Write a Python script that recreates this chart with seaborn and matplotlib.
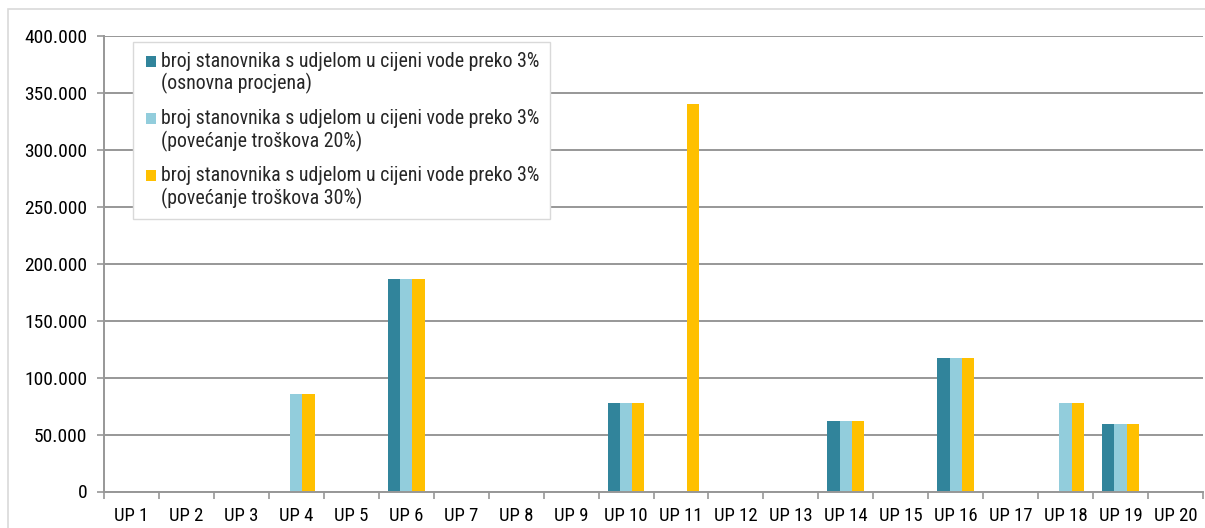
import numpy as np
import pandas as pd
import matplotlib
matplotlib.use("Agg")
import matplotlib.pyplot as plt
import seaborn as sns
from matplotlib import font_manager
from matplotlib.patches import Rectangle, Patch
from matplotlib.legend_handler import HandlerPatch
from matplotlib.ticker import FuncFormatter, MultipleLocator, FixedLocator

# --- data -------------------------------------------------------------------
categories = [f"UP {i}" for i in range(1, 21)]

series_names = [
    "broj stanovnika s udjelom u cijeni vode preko 3%\n(osnovna procjena)",
    "broj stanovnika s udjelom u cijeni vode preko 3%\n(povećanje troškova 20%)",
    "broj stanovnika s udjelom u cijeni vode preko 3%\n(povećanje troškova 30%)",
]

osnovna = [0, 0, 0, 0, 0, 187000, 0, 0, 0, 78000,
           0, 0, 0, 61500, 0, 117000, 0, 0, 59000, 0]
povecanje_20 = [0, 0, 0, 86000, 0, 187000, 0, 0, 0, 78000,
                0, 0, 0, 61500, 0, 117000, 0, 78000, 59000, 0]
povecanje_30 = [0, 0, 0, 86000, 0, 187000, 0, 0, 0, 78000,
                340500, 0, 0, 61500, 0, 117000, 0, 78000, 59000, 0]

colors = ["#31849B", "#92CDDC", "#FFC000"]

df = pd.DataFrame({
    "podrucje": categories * 3,
    "broj": osnovna + povecanje_20 + povecanje_30,
    "scenarij": sum([[s] * len(categories) for s in series_names], []),
})

# --- fonts: a narrow sans if one exists, otherwise Liberation Sans ----------
installed = {f.name for f in font_manager.fontManager.ttflist}
narrow = next((n for n in ("Liberation Sans Narrow", "Arial Narrow",
                           "Roboto Condensed", "Open Sans Condensed")
               if n in installed), None)
if narrow:
    base_family = narrow
    LEG_FS, XT_FS, YT_FS = 14.3, 13.5, 14
    LEG = dict(handlelength=0.68, handletextpad=0.25, labelspacing=0.75,
               borderpad=0.5)
    LINESPACING, SQ, SQ_Y = 1.14, 0.55, 0.97
else:
    base_family = "Liberation Sans"
    LEG_FS, XT_FS, YT_FS = 12.6, 11.3, 12
    LEG = dict(handlelength=0.69, handletextpad=0.29, labelspacing=0.95,
               borderpad=0.66)
    LINESPACING, SQ, SQ_Y = 1.31, 0.63, 1.095

sns.set_theme(style="white")
plt.rcParams["font.family"] = [base_family, "Liberation Sans", "DejaVu Sans"]

GRID = "#979797"
W, H = 1205, 528
left_px, right_px, top_px, bottom_px = 104, 1203, 36, 491.5

fig = plt.figure(figsize=(W / 100, H / 100), dpi=100)
ax = fig.add_axes([left_px / W, 1 - bottom_px / H,
                   (right_px - left_px) / W, (bottom_px - top_px) / H])

sns.barplot(data=df, x="podrucje", y="broj", hue="scenarij",
            hue_order=series_names, order=categories, palette=colors,
            width=0.67, saturation=1, linewidth=0, legend=False, ax=ax)

ax.set_xlim(-0.5, len(categories) - 0.5)
ax.set_ylim(0, 400000)
ax.yaxis.set_major_locator(MultipleLocator(50000))
ax.yaxis.set_major_formatter(
    FuncFormatter(lambda v, _: f"{int(v):,}".replace(",", ".")))

ax.set_xlabel("")
ax.set_ylabel("")
ax.set_axisbelow(True)
ax.grid(axis="y", color=GRID, linewidth=1.4)
ax.grid(axis="x", visible=False)

for side in ("top", "right"):
    ax.spines[side].set_visible(False)
for side in ("left", "bottom"):
    ax.spines[side].set_color(GRID)
    ax.spines[side].set_linewidth(1.4)

ax.tick_params(axis="y", length=5, width=1.2, color=GRID, pad=7,
               labelsize=YT_FS, labelcolor="black", left=True)
ax.tick_params(axis="x", which="major", length=0, pad=11,
               labelsize=XT_FS, labelcolor="black")
ax.xaxis.set_minor_locator(
    FixedLocator(np.arange(-0.5, len(categories), 1.0)))
ax.tick_params(axis="x", which="minor", length=5, width=1.2, color=GRID,
               bottom=True)


# legend squares sit beside the first line of each two-line label,
# flush against the right side of the handle area
class TopSquareHandler(HandlerPatch):
    def create_artists(self, legend, orig_handle, xdescent, ydescent,
                       width, height, fontsize, trans):
        size = SQ * fontsize
        x0 = -xdescent + width - size
        y0 = SQ_Y * fontsize - size / 2
        p = Rectangle((x0, y0), size, size,
                      facecolor=orig_handle.get_facecolor(),
                      edgecolor="none", transform=trans)
        return [p]


handles = [Patch(facecolor=c) for c in colors]
leg = ax.legend(handles, series_names, loc="upper left",
                bbox_to_anchor=((133 - left_px) / (right_px - left_px),
                                (bottom_px - 42) / (bottom_px - top_px)),
                borderaxespad=0,
                fontsize=LEG_FS, frameon=True, fancybox=False,
                edgecolor="#d9d9d9", framealpha=1,
                handler_map={Patch: TopSquareHandler()}, **LEG)
leg.get_frame().set_linewidth(1.0)
for t in leg.get_texts():
    t.set_linespacing(LINESPACING)

# outer chart frame
fig.patches.append(Rectangle((8 / W, -0.2), 1.2, 1.2 - 9 / H,
                             transform=fig.transFigure, fill=False,
                             edgecolor="#d9d9d9", linewidth=1.2))

fig.savefig("out.png", dpi=100, facecolor="white")
